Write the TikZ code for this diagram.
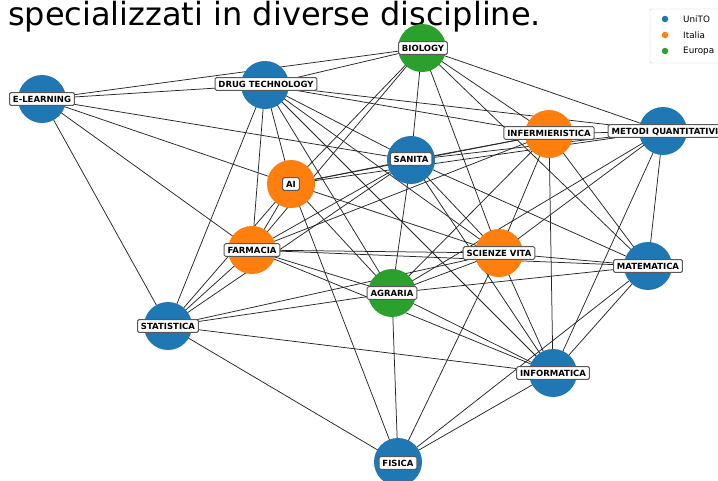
\documentclass[tikz,border=0pt]{standalone}
\usepackage{fontspec}
\setmainfont{DejaVu Sans}
\newfontfamily\labfont{DejaVu Sans}
\definecolor{tabblue}{HTML}{1F77B4}
\definecolor{taborange}{HTML}{FF7F0E}
\definecolor{tabgreen}{HTML}{2CA02C}
\tikzset{
  edge/.style={draw=black!85, line width=0.75pt},
  dot/.style={circle, minimum size=48pt, inner sep=0pt, draw=none},
  lab/.style={fill=white, draw=black!65, line width=1pt, rounded corners=1.5pt,
    inner xsep=3.4pt, inner ysep=3.3pt, font=\labfont\fontsize{8.5}{8.5}\bfseries,
    text height=6.2pt, text depth=0pt},
  legdot/.style={circle, inner sep=0pt, minimum size=6.5pt},
  legtext/.style={anchor=west, font=\fontsize{8.8}{8.8}\selectfont, inner sep=0pt}
}
\begin{document}
\begin{tikzpicture}[x=1pt,y=-1pt]
\useasboundingbox (0,0) rectangle (718,480);
\clip (0,0) rectangle (718,480);
\fill[white] (0,0) rectangle (718,480);

% title
\node[anchor=base west, inner sep=0pt, font=\fontsize{32}{32}\selectfont] (title) at (8,25) {specializzati in diverse discipline.};

% centres
\coordinate (E) at (42,99);
\coordinate (D) at (265,85);
\coordinate (B) at (422,48);
\coordinate (I) at (549,134);
\coordinate (M) at (663,131);
\coordinate (S) at (411,160);
\coordinate (A) at (291,184);
\coordinate (F) at (252,250);
\coordinate (V) at (499,253);
\coordinate (T) at (648,266);
\coordinate (G) at (392,293);
\coordinate (St) at (168,326);
\coordinate (N) at (553,373);
\coordinate (P) at (398,462);

% edges
\foreach \a/\b in {E/B,E/D,E/S,E/A,E/F,E/St,
  D/B,D/I,D/M,D/S,D/A,D/F,D/St,D/G,D/V,D/N,
  B/A,B/F,B/S,B/I,B/M,B/V,B/T,
  I/S,I/A,I/F,I/V,I/T,I/N,I/M,I/G,
  M/S,M/A,M/V,M/T,M/N,M/G,
  S/A,S/F,S/V,S/T,S/G,S/N,S/St,
  A/F,A/V,A/G,A/P,A/St,
  F/V,F/T,F/G,F/St,F/N,
  V/G,V/T,V/N,V/P,
  T/N,T/P,T/G,
  G/St,G/N,G/P,
  St/N,St/P,St/V,
  N/P}
  \draw[edge] (\a) -- (\b);

% circles
\node[dot, fill=tabblue] (cE) at (E) {};
\node[dot, fill=tabblue] (cD) at (D) {};
\node[dot, fill=tabgreen] (cB) at (B) {};
\node[dot, fill=taborange] (cI) at (I) {};
\node[dot, fill=tabblue] (cM) at (M) {};
\node[dot, fill=tabblue] (cS) at (S) {};
\node[dot, fill=taborange] (cA) at (A) {};
\node[dot, fill=taborange] (cF) at (F) {};
\node[dot, fill=taborange] (cV) at (V) {};
\node[dot, fill=tabblue] (cT) at (T) {};
\node[dot, fill=tabgreen] (cG) at (G) {};
\node[dot, fill=tabblue] (cSt) at (St) {};
\node[dot, fill=tabblue] (cN) at (N) {};
\node[dot, fill=tabblue] (cP) at (P) {};

% labels
\node[lab] (lE) at (42,99) {E-LEARNING};
\node[lab] (lD) at (266,84) {DRUG TECHNOLOGY};
\node[lab] (lB) at (423,48) {BIOLOGY};
\node[lab] (lI) at (549,133) {INFERMIERISTICA};
\node[lab] (lM) at (665,131) {METODI QUANTITATIVI};
\node[lab] (lS) at (411,159) {SANITA};
\node[lab] (lA) at (291,184) {AI};
\node[lab] (lF) at (252,250) {FARMACIA};
\node[lab] (lV) at (499,253) {SCIENZE VITA};
\node[lab] (lT) at (648,266) {MATEMATICA};
\node[lab] (lG) at (392,293) {AGRARIA};
\node[lab] (lSt) at (168,326) {STATISTICA};
\node[lab] (lN) at (553,373) {INFORMATICA};
\node[lab] (lP) at (398,463) {FISICA};

% legend
\draw[draw=black!20, fill=white, rounded corners=2pt] (650,9) rectangle (730,63);
\node[legdot, fill=tabblue] (k1) at (665,19) {};
\node[legdot, fill=taborange] (k2) at (665,35) {};
\node[legdot, fill=tabgreen] (k3) at (665,51) {};
\node[legtext] (t1) at (683,19) {UniTO};
\node[legtext] (t2) at (683,35) {Italia};
\node[legtext] (t3) at (683,51) {Europa};
\end{tikzpicture}
\end{document}
